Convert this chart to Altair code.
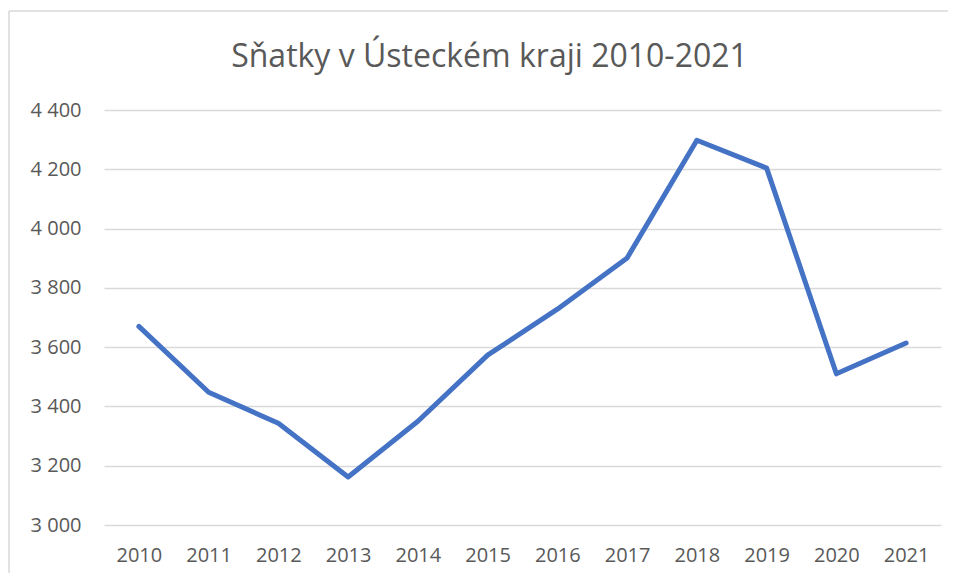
import altair as alt
import pandas as pd

years = ["2010", "2011", "2012", "2013", "2014", "2015", "2016", "2017", "2018", "2019", "2020", "2021"]
marriages = [3670, 3448, 3343, 3162, 3350, 3573, 3728, 3901, 4298, 4204, 3510, 3614]
y_ticks = [3000, 3200, 3400, 3600, 3800, 4000, 4200, 4400]
title_text = "Sňatky v Ústeckém kraji 2010-2021"

df = pd.DataFrame({"rok": years, "snatky": marriages})

TEXT = "#595959"
FONT = "Open Sans"
one = pd.DataFrame({"a": [0]})

border_top = alt.Chart(one).mark_rule(
    stroke="#d9d9d9", strokeWidth=1.5, clip=False
).encode(x=alt.value(-95), x2=alt.value(860), y=alt.value(-99))

border_left = alt.Chart(one).mark_rule(
    stroke="#d9d9d9", strokeWidth=1.5, clip=False
).encode(x=alt.value(-95), y=alt.value(-99), y2=alt.value(520))

line = alt.Chart(df).mark_line(
    color="#4472C4", strokeWidth=5, strokeCap="round", strokeJoin="round"
).encode(
    x=alt.X("rok:O", sort=years, scale=alt.Scale(type="point", padding=0.5),
            axis=alt.Axis(title=None, labelAngle=0, ticks=False, domain=False, grid=False,
                          labelFontSize=20, labelColor=TEXT, labelFont=FONT,
                          labelPadding=20)),
    y=alt.Y("snatky:Q", scale=alt.Scale(domain=[3000, 4400], nice=False, zero=False),
            axis=alt.Axis(title=None, values=y_ticks, ticks=False, domain=False,
                          labelFontSize=20, labelColor=TEXT, labelFont=FONT,
                          labelPadding=23,
                          labelExpr="replace(format(datum.value, ','), ',', ' ')",
                          gridColor="#d9d9d9", gridWidth=1.5)),
)

chart = alt.layer(border_top, border_left, line).properties(
    width=837, height=415,
    title=alt.TitleParams(title_text, fontSize=32, font=FONT, color=TEXT,
                          fontWeight="normal", anchor="middle", dx=-33, offset=-64),
    autosize=alt.AutoSizeParams(type="none"),
    padding={"left": 96, "top": 102, "right": 7, "bottom": 48},
    background="white",
).configure_view(stroke="transparent", strokeWidth=0)

chart.save("out.html", embed_options={"renderer": "svg", "actions": False})
